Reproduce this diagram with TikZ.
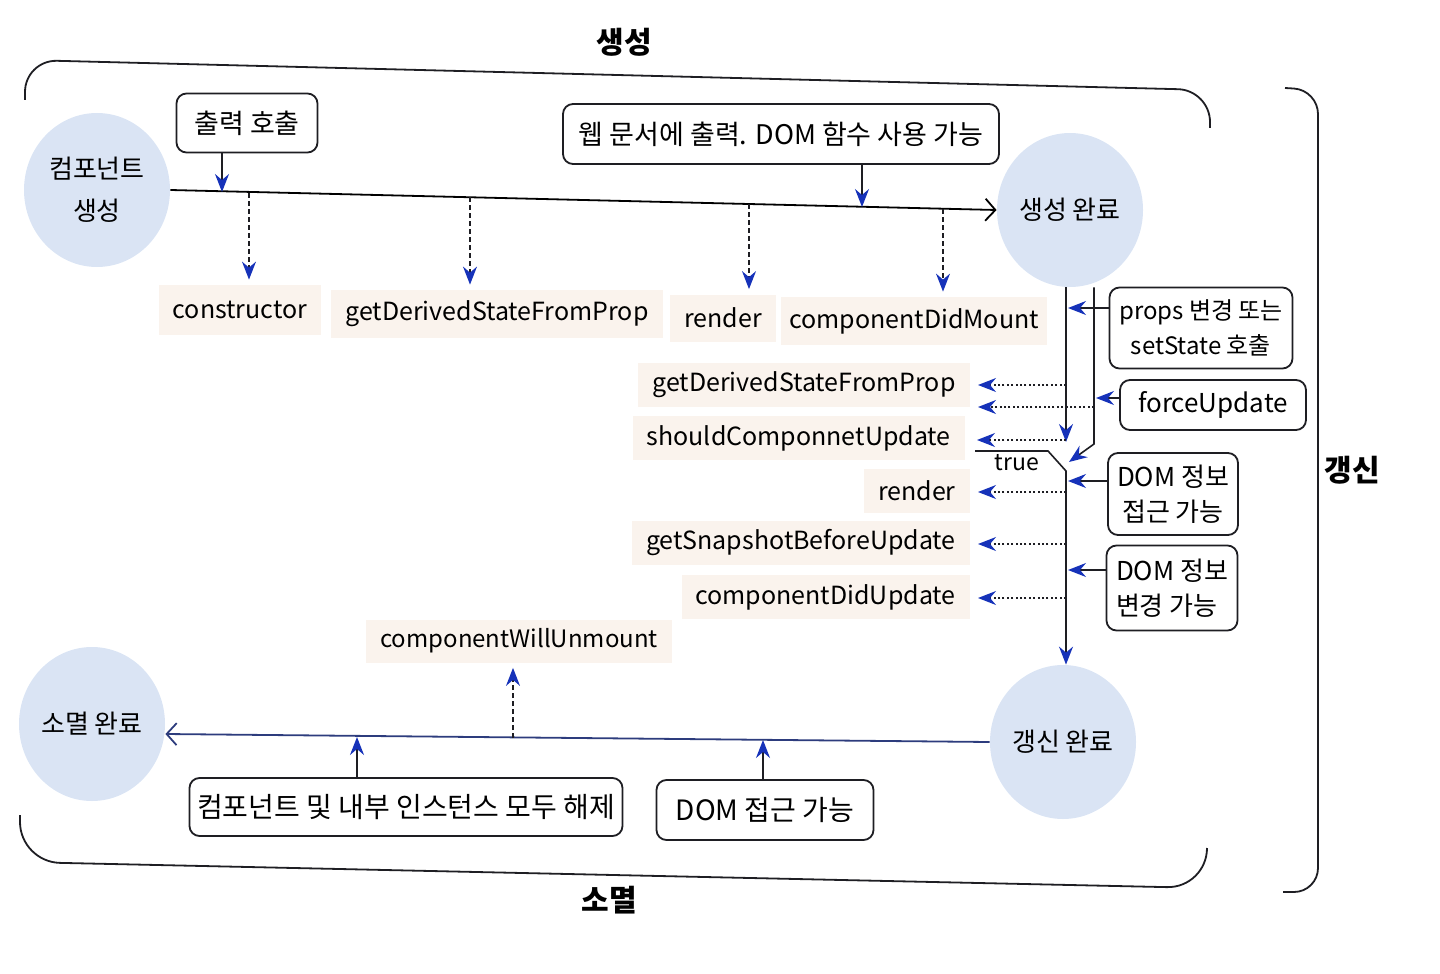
\documentclass[tikz,border=0pt]{standalone}
\usepackage{fontspec}
\setmainfont{Noto Sans CJK KR}
\usetikzlibrary{arrows.meta,shapes.geometric}
\definecolor{circ}{RGB}{218,228,244}
\definecolor{tipblue}{RGB}{22,50,185}
\definecolor{beige}{RGB}{250,243,237}
\definecolor{navy}{RGB}{45,60,125}
\definecolor{ink}{RGB}{30,30,35}
\begin{document}
\begin{tikzpicture}[x=0.5pt,y=-0.5pt,
  state/.style={ellipse,fill=circ,minimum width=73pt,minimum height=77pt,inner sep=0pt,align=center,font=\fontsize{13}{21}\selectfont},
  note/.style={draw=ink,line width=0.9pt,rounded corners=5pt,fill=white,align=center,inner sep=0pt,font=\fontsize{13}{17.5}\selectfont},
  meth/.style={fill=beige,inner xsep=7pt,inner ysep=0pt,font=\fontsize{12.5}{15}\selectfont},
  frame/.style={draw=ink,line width=0.9pt},
  bluearrow/.style={draw=ink,line width=0.8pt,-{Stealth[length=9pt,width=7pt,inset=3pt,color=tipblue]}},
  dashblue/.style={draw=ink,line width=0.7pt,dash pattern=on 2.5pt off 1.5pt,-{Stealth[length=9pt,width=7pt,inset=3pt,color=tipblue]}},
  dotblue/.style={draw=ink,line width=0.7pt,dash pattern=on 1pt off 1.2pt,-{Stealth[length=9pt,width=7pt,inset=3pt,color=tipblue]}},
  openarrow/.style={line width=0.9pt,-{Straight Barb[length=5pt,width=11pt]}},
  bigtitle/.style={font=\fontsize{15}{18}\selectfont\bfseries}
]
\useasboundingbox (0,0) rectangle (1440,974);
% frames
\draw[frame,rounded corners=16pt] (25,100) -- (25,60) -- (1210,90) -- (1210,128);
\draw[frame,rounded corners=12pt] (1285,88) -- (1318,90) -- (1318,892) -- (1283,892);
\draw[frame,rounded corners=20pt] (20,815) -- (20,862) -- (1207,888) -- (1207,848);
\node[bigtitle] (tCreate) at (624,42) {생성};
\node[bigtitle] (tUpdate) at (1352,470) {갱신};
\node[bigtitle] (tRemove) at (609,900) {소멸};
% states
\node[state] (create) at (97,190) {컴포넌트\\생성};
\node[state] (created) at (1070,210) {생성 완료};
\node[state] (removed) at (92,724) {소멸 완료};
\node[state] (updated) at (1063,742) {갱신 완료};
% notes
\node[note,minimum width=70.5pt,minimum height=29.5pt,font=\fontsize{13.5}{17.5}\selectfont] (n1) at (247,123) {출력 호출};
\node[note,minimum width=218pt,minimum height=30pt,font=\fontsize{13.5}{17.5}\selectfont] (n2) at (781,134) {웹 문서에 출력. DOM 함수 사용 가능};
\node[note,minimum width=91.5pt,minimum height=40.5pt,font=\fontsize{12}{17.5}\selectfont] (n3) at (1201,328) {props 변경 또는\\setState 호출};
\node[note,minimum width=93pt,minimum height=25pt] (n4) at (1213,405) {forceUpdate};
\node[note,minimum width=65pt,minimum height=41pt] (n5) at (1173,494) {DOM 정보\\접근 가능};
\node[note,minimum width=65.5pt,minimum height=42.5pt,align=left] (n6) at (1172,588) {DOM 정보\\변경 가능};
\node[note,minimum width=216.5pt,minimum height=29pt,font=\fontsize{14}{17.5}\selectfont] (n7) at (406,807) {컴포넌트 및 내부 인스턴스 모두 해제};
\node[note,minimum width=108.5pt,minimum height=30pt,font=\fontsize{14}{17.5}\selectfont] (n8) at (765,810) {DOM 접근 가능};
% methods (creation)
\node[meth,minimum width=78pt,minimum height=25pt] (m1) at (240,310) {constructor};
\node[meth,minimum height=24pt] (m2) at (497,314) {getDerivedStateFromProp};
\node[meth,minimum width=46.5pt,minimum height=23.5pt] (m3) at (723,318) {render};
\node[meth,minimum height=24pt,inner xsep=4pt] (m4) at (914,321) {componentDidMount};
\node[meth,minimum height=21.5pt,font=\fontsize{12}{15}\selectfont] (m5) at (519,641) {componentWillUnmount};
% methods (update)
\node[meth,anchor=east,minimum height=22pt] (u1) at (970,385) {getDerivedStateFromProp};
\node[meth,anchor=east,minimum height=22pt] (u2) at (965,438) {shouldComponnetUpdate};
\node[meth,anchor=east,minimum height=22pt] (u3) at (970,491) {render};
\node[meth,anchor=east,minimum height=22pt] (u4) at (970,543) {getSnapshotBeforeUpdate};
\node[meth,anchor=east,minimum height=22pt] (u5) at (970,597) {componentDidUpdate};
% main creation line
\draw[openarrow] (create.east) -- (created.west);
\coordinate (c1) at (222,192);
\draw[bluearrow] (n1.south -| c1) -- (c1);
\coordinate (c2) at (862,207);
\draw[bluearrow] (n2.south -| c2) -- (c2);
\coordinate (d1) at (249,193);
\coordinate (d2) at (470,197);
\coordinate (d3) at (749,204);
\coordinate (d4) at (943,209);
\draw[dashblue,shorten >=2.5pt] (d1) -- (d1 |- m1.north);
\draw[dashblue,shorten >=2.5pt] (d2) -- (d2 |- m2.north);
\draw[dashblue,shorten >=2.5pt] (d3) -- (d3 |- m3.north);
\draw[dashblue,shorten >=2.5pt] (d4) -- (d4 |- m4.north);
% update lines
\coordinate (A1) at (1066,442);
\draw[bluearrow] (created.south -| A1) -- (A1);
\coordinate (B1) at (1094,444);
\coordinate (B2) at (1069,462);
\draw[bluearrow] (created.south -| B1) -- (B1) -- (B2);
\coordinate (T0) at (975,451);
\coordinate (T1) at (1048,451);
\coordinate (T2) at (1066,471);
\draw[bluearrow] (T0) -- (T1) -- (T2) -- (updated.north -| T2);
\node[font=\fontsize{11.5}{14}\selectfont] (truelbl) at (1017,463) {true};
\coordinate (e1) at (1066,385);
\coordinate (e2) at (1094,407);
\coordinate (e3) at (1066,440);
\coordinate (e4) at (1066,492);
\coordinate (e5) at (1066,544);
\coordinate (e6) at (1066,598);
\draw[dotblue,shorten >=4pt] (e1) -- (e1 -| u1.east);
\draw[dotblue,shorten >=4pt] (e2) -- (e2 -| u1.east);
\draw[dotblue,shorten >=6pt] (e3) -- (e3 -| u2.east);
\draw[dotblue,shorten >=4pt] (e4) -- (e4 -| u3.east);
\draw[dotblue,shorten >=4pt] (e5) -- (e5 -| u4.east);
\draw[dotblue,shorten >=4pt] (e6) -- (e6 -| u5.east);
\coordinate (p1) at (1068,308);
\coordinate (p2) at (1096,398);
\coordinate (p3) at (1068,481);
\coordinate (p4) at (1068,570);
\draw[bluearrow] (n3.west |- p1) -- (p1);
\draw[bluearrow] (n4.west |- p2) -- (p2);
\draw[bluearrow] (n5.west |- p3) -- (p3);
\draw[bluearrow] (n6.west |- p4) -- (p4);
% removal line
\draw[openarrow,draw=navy] (updated.west) -- ([yshift=-5pt]removed.east);
\coordinate (U1) at (357,737);
\coordinate (U2) at (763,740);
\coordinate (U3) at (513,738);
\draw[bluearrow] (n7.north -| U1) -- (U1);
\draw[bluearrow] (n8.north -| U2) -- (U2);
\draw[dashblue,shorten >=2.5pt] (U3) -- (U3 |- m5.south);
\end{tikzpicture}
\end{document}
